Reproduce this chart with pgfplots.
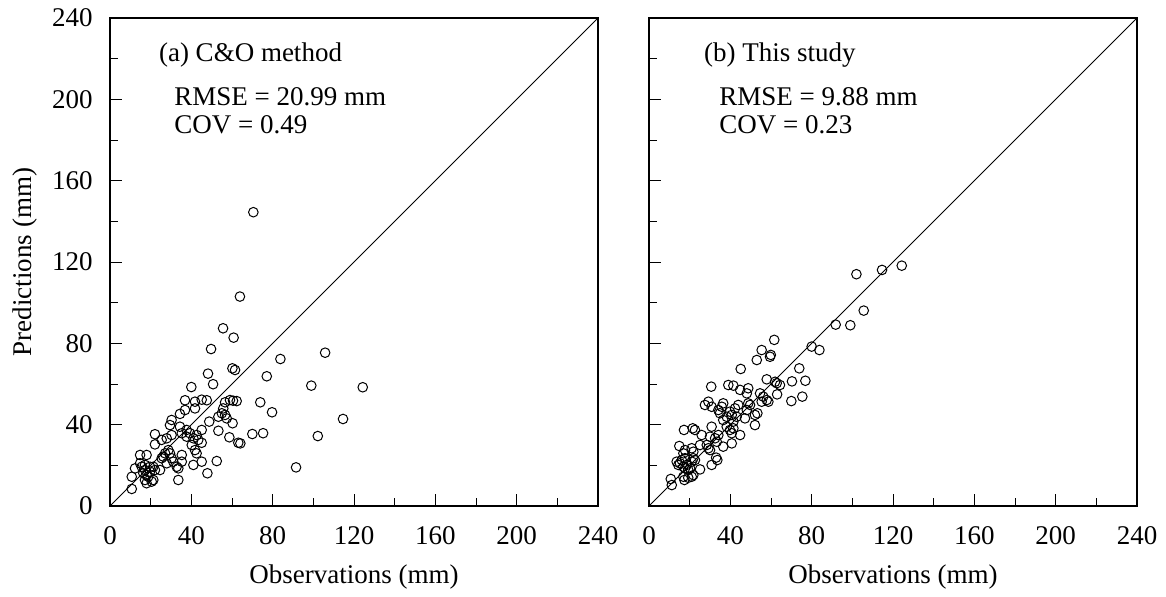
\documentclass[border=0pt]{standalone}
\usepackage{fontspec}
\setmainfont{Liberation Serif}
\usepackage{pgfplots}
\pgfplotsset{compat=1.18}

% measured predictions vs observations, (a) C&O method
\pgfplotstableread{
x y
70.5 144.5
63.9 103
55.6 87.4
60.8 82.8
49.7 77.2
105.8 75.4
83.8 72.3
60.2 67.7
61.5 66.9
48.2 65.1
77.1 63.8
50.7 59.9
99 59.2
124.3 58.4
40 58.5
36.9 52
41.8 51.3
45.1 52.3
47.6 52
56.6 51
59 52.1
60.5 51.8
62.3 51.6
73.9 51
55.7 48
55 45.6
53.3 43.9
56.6 44.8
57.4 43.1
79.7 46.1
48.8 41.5
60.3 40.7
114.6 42.8
45.1 37.4
53.3 37
58.7 33.8
70 35.4
75.3 35.8
102.2 34.4
63.1 31.1
64.1 30.8
45.1 31.1
91.5 19
52.5 22.1
47.9 16.1
33.6 12.8
10.7 8.4
30.3 42.3
29.5 39.8
34.4 45.3
36.9 47.2
41.8 48
22.1 35.3
22.1 30.3
25.4 32.5
27.9 33.3
30.3 34.9
34.4 39
35.3 35.8
37.7 37.4
37.7 34.1
39.3 35.8
41 33.3
42.6 34.9
43.4 32.5
40.2 30
41.8 27.5
42.6 25.9
41 20.2
45.1 21.8
35.3 25.1
35.3 21.8
32.8 19.3
33.6 18.5
29.5 25.9
28.7 27.5
27.1 25.9
30.3 23.5
31.1 21.8
27.9 21
26.2 24.3
25.4 23.5
24.6 17.7
21.3 19.3
22.1 17.7
14.8 25.1
18 25.1
12.3 18.5
10.7 14.4
14.8 21
15.6 19.3
17.2 17.7
16.4 16.1
18 15.2
18.8 14.4
17.2 12.8
18 11.2
20.5 12
21.3 12.8
19.7 16.9
17.2 20.2
19.7 19.3
}\tableA

% (b) this study
\pgfplotstableread{
x y
124.3 118.2
114.6 116.1
102 114
105.6 96.1
91.8 89.2
99 88.9
80 78.4
83.8 76.7
61.6 81.7
55.4 76.7
53 71.8
59.9 74.3
59.5 73.4
45.1 67.4
73.9 67.7
70.3 61.3
76.9 61.6
75.4 53.8
70 51.6
57.9 62.3
62 61.1
62.8 60.4
64.4 59.5
63 54.9
30.6 58.7
39 59.5
41.5 59.2
44.8 57.1
48.8 57.9
48.1 55.4
54.6 55.4
56.2 53.8
57.9 52.1
55.4 51.3
58.7 51.3
49.7 49.7
48.1 47.2
53.3 45.6
52.1 39.8
10.7 13.3
11.2 10.3
17.4 12.8
16.9 14.4
19.3 13.9
21 14.4
21.8 15.2
25.1 18
13.6 21.8
14.4 20.2
15.2 21
16.1 22.6
16.9 19.3
17.7 18.5
18.5 20.2
19.3 17.7
17.7 23.5
16.9 25.9
17.7 27.5
20.2 18.5
21 21.8
21.8 23.5
22.6 22.6
14.9 29.5
21 28.4
21.8 26.7
17.2 37.4
21.5 38.2
22.6 37.4
25.9 34.9
25.1 30
28.4 30
29.2 28.4
30 27.5
30.8 20.2
33.6 22.6
33 23.8
30 34.1
30.8 39
27.5 49.7
29.2 51.3
30.8 48.8
32.5 33.3
33.3 31.6
34.1 34.9
35.8 48.8
36.5 50.5
34.1 47.2
34.9 45.6
36.5 42.3
38.2 43.9
39.8 46.4
40.7 44.8
41.5 41.5
42.3 48
43.1 43.9
43.9 49.7
38.2 39
39.8 37.4
40.7 35.8
41.5 38.2
40.7 30.8
36.5 29.2
44.8 34.9
47.2 43.1
48.8 50.5
52.1 44.8
}\tableB

\pgfplotsset{
  panel/.style={
    scale only axis, width=244pt, height=244pt,
    anchor=south west,
    xmin=0, xmax=240, ymin=0, ymax=240,
    xtick={0,40,...,240}, ytick={0,40,...,240},
    minor xtick={20,60,...,220}, minor ytick={20,60,...,220},
    tick align=inside, xtick pos=bottom, ytick pos=left,
    major tick length=6pt, minor tick length=4pt,
    axis line style={line width=0.6pt},
    every tick/.style={black, line width=0.5pt},
    /pgf/number format/assume math mode=true,
    xticklabel style={yshift=-5.5pt},
    yticklabel style={xshift=-4pt},
    every axis x label/.style={at={(axis description cs:0.5,0)}, anchor=center, yshift=-35.5pt},
    every axis y label/.style={at={(axis description cs:0,0.5)}, xshift=-42.5pt, rotate=90, anchor=center},
    xlabel={Observations (mm)},
  },
  pts/.style={only marks, mark=o, mark size=2.4pt, black, mark options={line width=0.5pt}},
}
\tikzset{stat/.style={anchor=west, inner ysep=0pt}}

\begin{document}
\fontsize{13.5}{16}\selectfont
\begin{tikzpicture}
\path[use as bounding box] (0,0) rectangle (583pt,298pt);

\begin{axis}[panel, at={(55pt,45pt)}, ylabel={Predictions (mm)}]
  \addplot[black, line width=0.5pt] coordinates {(0,0) (240,240)};
  \addplot[pts] table {\tableA};
  \node[anchor=west] at (axis cs:19.5,221.8) {(a) C\&O method};
  \node[stat] at (axis cs:27,201.5) {RMSE = 20.99 mm};
  \node[stat] at (axis cs:27,187.5) {COV = 0.49};
\end{axis}

\begin{axis}[panel, at={(324.5pt,45pt)}, yticklabels={}]
  \addplot[black, line width=0.5pt] coordinates {(0,0) (240,240)};
  \addplot[pts] table {\tableB};
  \node[anchor=west] at (axis cs:22.5,221.8) {(b) This study};
  \node[stat] at (axis cs:30,201.5) {RMSE = 9.88 mm};
  \node[stat] at (axis cs:30,187.5) {COV = 0.23};
\end{axis}
\end{tikzpicture}
\end{document}
